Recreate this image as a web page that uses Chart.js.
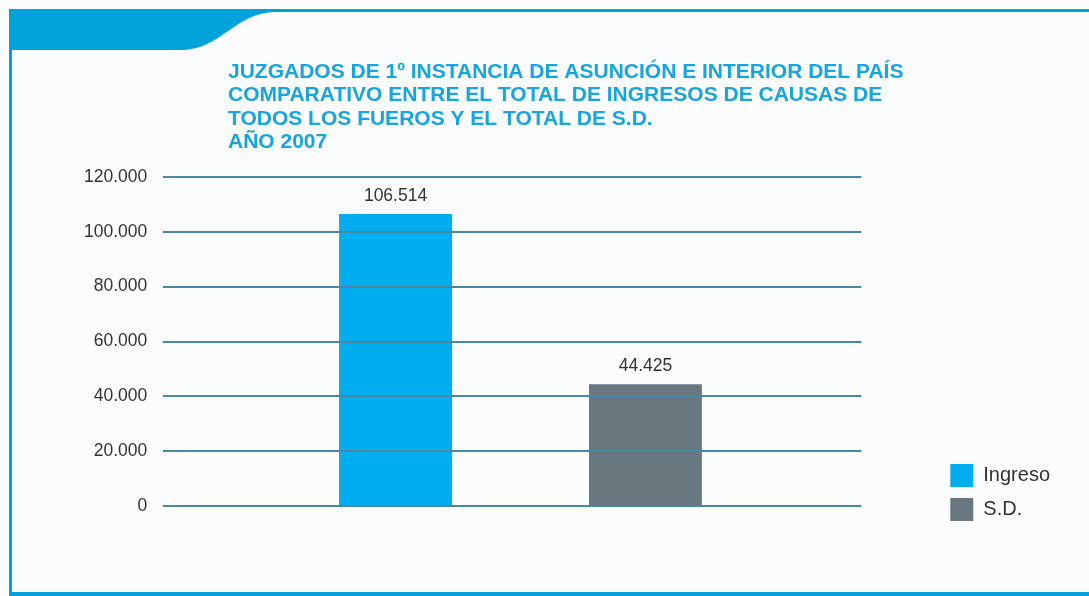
<!DOCTYPE html>
<html lang="es">
<head>
  <meta charset="UTF-8">
  <meta name="viewport" content="width=device-width, initial-scale=1.0">
  <title>Juzgados de 1º Instancia - Año 2007</title>
  <script src="https://cdn.jsdelivr.net/npm/chart.js"></script>
  <style>
    html, body { margin: 0; padding: 0; background: #fbfcfe; overflow: hidden; }
    #wrap { position: relative; width: 1089px; height: 596px; }
  </style>
</head>
<body>
  <div id="wrap"><canvas id="ingresosChart"></canvas></div>

  <script>
// Datos
const titleLines = [
  'JUZGADOS DE 1º INSTANCIA DE ASUNCIÓN E INTERIOR DEL PAÍS',
  'COMPARATIVO ENTRE EL TOTAL DE INGRESOS DE CAUSAS DE',
  'TODOS LOS FUEROS Y EL TOTAL DE S.D.',
  'AÑO 2007'
];
const categories = ['2007'];
const seriesNames = ['Ingreso', 'S.D.'];
const seriesValues = [106514, 44425];
const seriesColors = ['#00aeef', '#69787f'];
const yTickValues = [0, 20000, 40000, 60000, 80000, 100000, 120000];

const FONT = '"Liberation Sans", Arial, Helvetica, sans-serif';
Chart.defaults.font.family = FONT;

// 106514 -> "106.514"
function fmt(v) {
  return String(v).replace(/\B(?=(\d{3})+(?!\d))/g, '.');
}

// fondo, banda azul superior, bordes y titulo
const framePlugin = {
  id: 'frame',
  beforeDraw(chart) {
    const ctx = chart.ctx;
    const w = chart.width, h = chart.height;
    ctx.save();
    ctx.fillStyle = '#fbfcfe';
    ctx.fillRect(0, 0, w, h);

    ctx.fillStyle = '#00a3d9';
    ctx.beginPath();
    ctx.moveTo(9, 9);
    ctx.lineTo(w, 9);
    ctx.lineTo(w, 12);
    ctx.lineTo(275, 12);
    ctx.bezierCurveTo(236, 12, 220, 50, 182, 50);
    ctx.lineTo(12, 50);
    ctx.lineTo(12, 592);
    ctx.lineTo(w, 592);
    ctx.lineTo(w, h);
    ctx.lineTo(9, h);
    ctx.closePath();
    ctx.fill();

    ctx.fillStyle = '#17a5db';
    ctx.font = 'bold 21px ' + FONT;
    ctx.textAlign = 'left';
    ctx.textBaseline = 'alphabetic';
    titleLines.forEach((line, i) => ctx.fillText(line, 228, 78 + i * 23.3));
    ctx.restore();
  }
};

// valor encima de cada barra
const valueLabels = {
  id: 'valueLabels',
  afterDraw(chart) {
    const ctx = chart.ctx;
    ctx.save();
    ctx.font = '17.5px ' + FONT;
    ctx.fillStyle = '#333';
    ctx.textAlign = 'center';
    ctx.textBaseline = 'alphabetic';
    chart.data.datasets.forEach((ds, i) => {
      chart.getDatasetMeta(i).data.forEach((bar, j) => {
        ctx.fillText(fmt(ds.data[j]), bar.x, bar.y - 13);
      });
    });
    ctx.restore();
  }
};

// the pair sits a little right of centre, so each bar gets its own slot width
const slotPct = [0.669, 0.763];
const barPct = [0.484, 0.424];

const ctx = document.getElementById('ingresosChart').getContext('2d');
new Chart(ctx, {
  type: 'bar',
  data: {
    labels: categories,
    datasets: seriesNames.map((name, i) => ({
      label: name,
      data: [seriesValues[i]],
      backgroundColor: seriesColors[i],
      borderWidth: 0,
      categoryPercentage: slotPct[i],
      barPercentage: barPct[i]
    }))
  },
  options: {
    responsive: true,
    maintainAspectRatio: false,
    animation: false,
    layout: { padding: { left: 68, right: 29, top: 177, bottom: 64 } },
    plugins: {
      tooltip: { enabled: false },
      legend: {
        position: 'right',
        align: 'end',
        labels: {
          boxWidth: 23,
          boxHeight: 23,
          padding: 11,
          color: '#333',
          font: { size: 20 }
        }
      }
    },
    scales: {
      x: {
        grid: { display: false },
        border: { display: false },
        ticks: { display: false },
        afterFit: s => { s.height = 26; }
      },
      y: {
        min: 0,
        max: 120000,
        afterBuildTicks: s => { s.ticks = yTickValues.map(v => ({ value: v })); },
        grid: { color: '#4a87a4', lineWidth: 2, drawTicks: false, z: 1 },
        border: { display: false },
        ticks: {
          padding: 16,
          color: '#333',
          font: { size: 17.5 },
          callback: v => fmt(v)
        }
      },
      // empty axis that only keeps space between the plot and the legend
      gap: {
        type: 'linear',
        position: 'right',
        grid: { display: false },
        border: { display: false },
        ticks: { display: false },
        afterFit: s => { s.width = 78; }
      }
    }
  },
  plugins: [framePlugin, valueLabels]
});
  </script>
</body>
</html>
